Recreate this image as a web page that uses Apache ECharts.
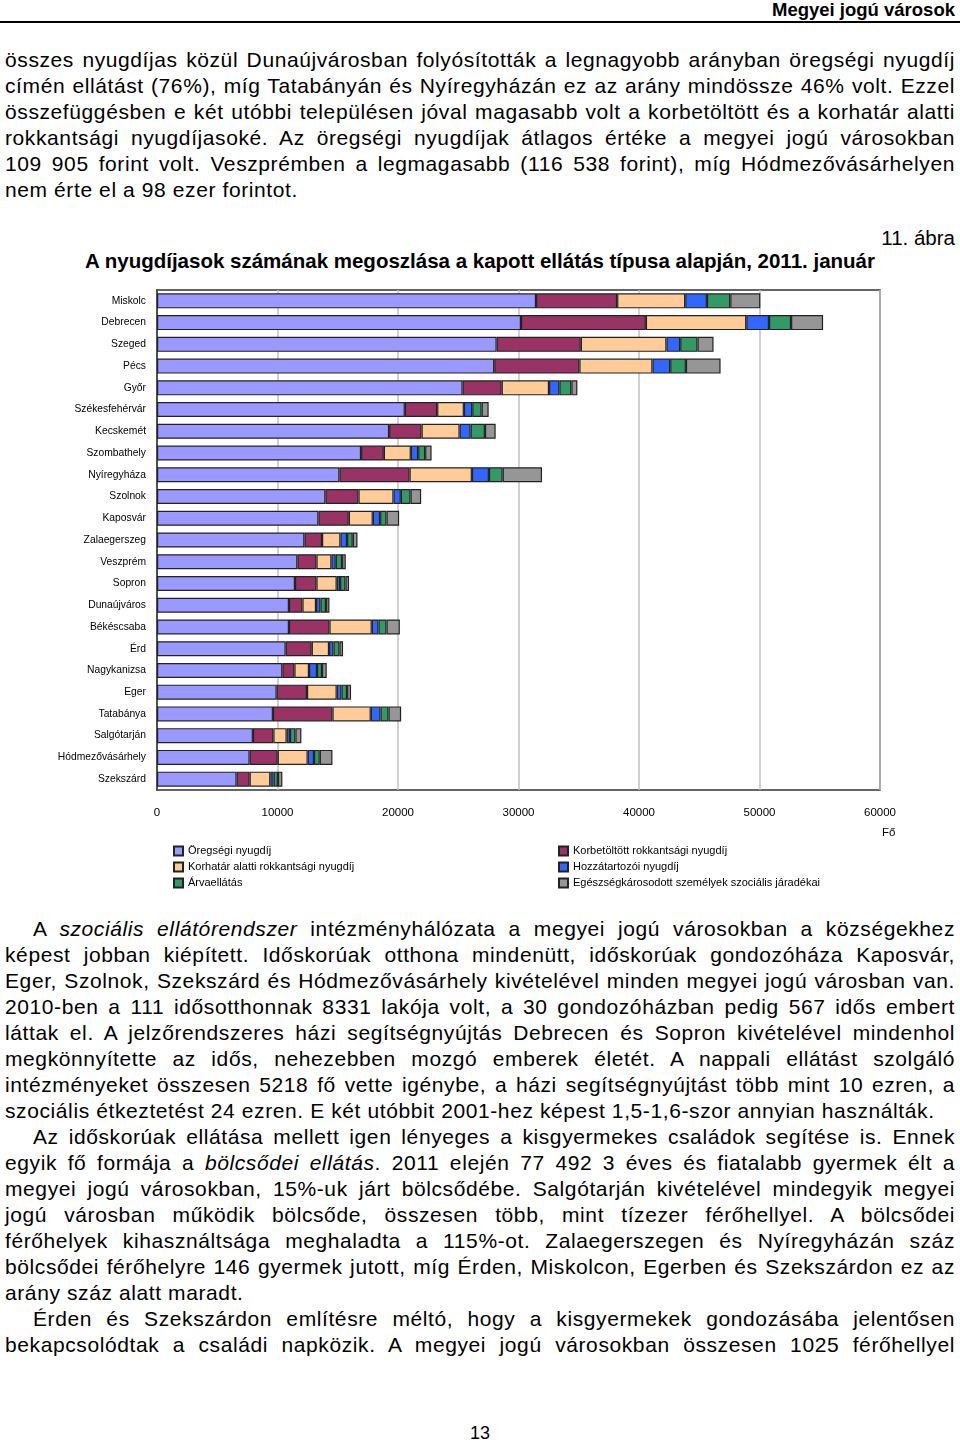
<!DOCTYPE html>
<html>
<head>
<meta charset="utf-8">
<script src="https://cdn.jsdelivr.net/npm/echarts@6/dist/echarts.min.js"></script>
<style>
  html, body { margin:0; padding:0; background:#fff; }
  body { width:960px; height:1440px; position:relative; overflow:hidden; font-family:'Liberation Sans', Arial, sans-serif; color:#000; }
  .hdr { position:absolute; right:5px; top:0px; font-weight:bold; font-size:18.5px; line-height:20px; }
  .rule { position:absolute; left:0; top:21px; width:960px; height:2px; background:#000; }
  .para { position:absolute; left:5px; width:950px; font-size:21px; letter-spacing:0.6px; line-height:26px; }
  .para div { text-align:justify; text-align-last:justify; white-space:nowrap; }
  .para div.last { text-align-last:left; }
  .para div.ind { text-indent:28px; }
  .fig { position:absolute; right:5px; top:227px; font-size:20.5px; line-height:22px; }
  .title { position:absolute; left:85px; top:249px; font-size:20.5px; font-weight:bold; line-height:24px; white-space:nowrap; }
  #chart { position:absolute; left:0; top:280px; width:960px; height:620px; }
  .pnum { position:absolute; left:0; width:960px; text-align:center; top:1422px; font-size:18px; line-height:22px; }
</style>
</head>
<body>
<div class="hdr">Megyei jogú városok</div>
<div class="rule"></div>
<div class="para" style="top:47px">
  <div>összes nyugdíjas közül Dunaújvárosban folyósították a legnagyobb arányban öregségi nyugdíj</div>
  <div>címén ellátást (76%), míg Tatabányán és Nyíregyházán ez az arány mindössze 46% volt. Ezzel</div>
  <div>összefüggésben e két utóbbi településen jóval magasabb volt a korbetöltött és a korhatár alatti</div>
  <div>rokkantsági nyugdíjasoké. Az öregségi nyugdíjak átlagos értéke a megyei jogú városokban</div>
  <div>109 905 forint volt. Veszprémben a legmagasabb (116 538 forint), míg Hódmezővásárhelyen</div>
  <div class="last">nem érte el a 98 ezer forintot.</div>
</div>
<div class="fig">11. ábra</div>
<div class="title">A nyugdíjasok számának megoszlása a kapott ellátás típusa alapján, 2011. január</div>
<div id="chart"></div>
<div class="para" style="top:916px">
  <div class="ind">A <i>szociális ellátórendszer</i> intézményhálózata a megyei jogú városokban a községekhez</div>
  <div>képest jobban kiépített. Időskorúak otthona mindenütt, időskorúak gondozóháza Kaposvár,</div>
  <div>Eger, Szolnok, Szekszárd és Hódmezővásárhely kivételével minden megyei jogú városban van.</div>
  <div>2010-ben a 111 idősotthonnak 8331 lakója volt, a 30 gondozóházban pedig 567 idős embert</div>
  <div>láttak el. A jelzőrendszeres házi segítségnyújtás Debrecen és Sopron kivételével mindenhol</div>
  <div>megkönnyítette az idős, nehezebben mozgó emberek életét. A nappali ellátást szolgáló</div>
  <div>intézményeket összesen 5218 fő vette igénybe, a házi segítségnyújtást több mint 10 ezren, a</div>
  <div class="last">szociális étkeztetést 24 ezren. E két utóbbit 2001-hez képest 1,5-1,6-szor annyian használták.</div>
  <div class="ind">Az időskorúak ellátása mellett igen lényeges a kisgyermekes családok segítése is. Ennek</div>
  <div>egyik fő formája a <i>bölcsődei ellátás</i>. 2011 elején 77 492 3 éves és fiatalabb gyermek élt a</div>
  <div>megyei jogú városokban, 15%-uk járt bölcsődébe. Salgótarján kivételével mindegyik megyei</div>
  <div>jogú városban működik bölcsőde, összesen több, mint tízezer férőhellyel. A bölcsődei</div>
  <div>férőhelyek kihasználtsága meghaladta a 115%-ot. Zalaegerszegen és Nyíregyházán száz</div>
  <div>bölcsődei férőhelyre 146 gyermek jutott, míg Érden, Miskolcon, Egerben és Szekszárdon ez az</div>
  <div class="last">arány száz alatt maradt.</div>
  <div class="ind">Érden és Szekszárdon említésre méltó, hogy a kisgyermekek gondozásába jelentősen</div>
  <div>bekapcsolódtak a családi napközik. A megyei jogú városokban összesen 1025 férőhellyel</div>
</div>
<div class="pnum">13</div>

<script>
const cities = ['Miskolc','Debrecen','Szeged','Pécs','Győr','Székesfehérvár','Kecskemét','Szombathely','Nyíregyháza','Szolnok','Kaposvár','Zalaegerszeg','Veszprém','Sopron','Dunaújváros','Békéscsaba','Érd','Nagykanizsa','Eger','Tatabánya','Salgótarján','Hódmezővásárhely','Szekszárd'];
const seriesNames = ['Öregségi nyugdíj','Korbetöltött rokkantsági nyugdíj','Korhatár alatti rokkantsági nyugdíj','Hozzátartozói nyugdíj','Árvaellátás','Egészségkárosodott személyek szociális járadékai'];
const oregsegi      = [31455,30207,28187,27988,25362,20567,19263,16936,15141,13977,13396,12232,11651,11451,10953,10953,10678,10404,9930,9623,7961,7687,6606];
const korbetoltott  = [6731,10362,6980,7064,3241,2684,2692,1886,5817,2742,2518,1463,1579,1778,1114,3357,2161,997,2518,4936,1695,2327,1080];
const korhatarAlatti= [5651,8335,7113,6066,3931,2219,3158,2244,5177,2909,1994,1529,1247,1687,1130,3515,1438,1213,2468,3183,1105,2493,1720];
const hozzatartozoi = [1800,1886,1138,1471,856,690,914,607,1413,607,607,548,357,274,366,557,366,665,391,806,274,524,274];
const arvaellatas   = [1937,1828,1438,1305,997,781,1188,582,1138,806,532,474,524,449,465,665,499,416,465,665,449,474,357];
const egeszseg      = [2493,2659,1330,2875,499,582,889,532,3266,881,1047,391,307,299,283,1105,299,391,332,1047,499,1055,366];
const xTicks = [0,10000,20000,30000,40000,50000,60000];

const colors = ['#9999FF','#993366','#FFCC99','#3366FF','#339966','#969696'];
const values = [oregsegi, korbetoltott, korhatarAlatti, hozzatartozoi, arvaellatas, egeszseg];
const narrow = "'Liberation Sans Narrow','Arial Narrow','Liberation Sans',Arial,sans-serif";

const chart = echarts.init(document.getElementById('chart'), null, {renderer:'canvas'});
chart.setOption({
  animation:false,
  color: colors,
  grid: { left:157, right:80, top:10, height:500, show:true, borderColor:'#333', borderWidth:1.5, backgroundColor:'#fff' },
  xAxis: {
    type:'value', min:xTicks[0], max:xTicks[xTicks.length-1], interval:10000,
    axisLine:{show:false}, axisTick:{show:false},
    axisLabel:{ margin:17, color:'#000', fontSize:11.5, fontFamily:narrow, formatter: v => String(v) },
    splitLine:{ show:true, lineStyle:{ color:'#c0c0c0', width:1.5 } }
  },
  yAxis: {
    type:'category', data:cities, inverse:true,
    axisLine:{ show:true, lineStyle:{ color:'#333', width:1.5 } },
    axisTick:{ show:false },
    axisLabel:{ margin:11, color:'#000', fontSize:10.3, fontFamily:narrow }
  },
  legend: [
    { data:[seriesNames[0], seriesNames[2], seriesNames[4]], orient:'vertical', left:168, top:560,
      itemWidth:9, itemHeight:9, itemGap:4, icon:'rect', selectedMode:false,
      textStyle:{ color:'#000', fontSize:11, fontFamily:narrow, lineHeight:12, padding:[0,0,0,0] } },
    { data:[seriesNames[1], seriesNames[3], seriesNames[5]], orient:'vertical', left:553, top:560,
      itemWidth:9, itemHeight:9, itemGap:4, icon:'rect', selectedMode:false,
      textStyle:{ color:'#000', fontSize:11, fontFamily:narrow, lineHeight:12, padding:[0,0,0,0] } }
  ],
  graphic: [
    { type:'text', left:882, top:547, style:{ text:'Fő', fill:'#000', font:"11.5px " + narrow } }
  ],
  series: values.map((arr, i) => ({
    name: seriesNames[i], type:'bar', stack:'total', data: arr,
    barWidth: 15,
    itemStyle:{ color: colors[i], borderColor:'#222', borderWidth:1.2 },
    emphasis:{ disabled:true }
  }))
});
</script>
</body>
</html>
